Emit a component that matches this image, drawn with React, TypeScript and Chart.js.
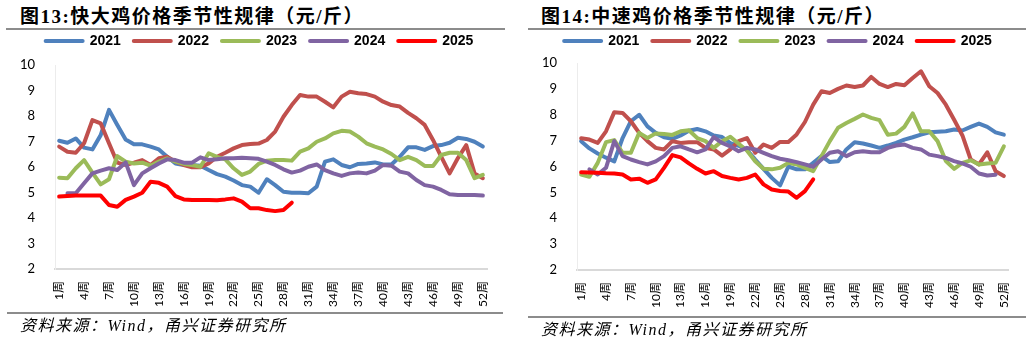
import React, { useEffect, useRef } from 'react';
import { Chart, registerables } from 'chart.js';

Chart.register(...registerables);

// ---- categories / labels ----
const weeks: string[] = Array.from({ length: 52 }, (_, i) => `${i + 1}周`);
const years: string[] = ['2021', '2022', '2023', '2024', '2025'];
const yTickMin = 2;
const yTickMax = 10;

// ---- 图13 快大鸡 (元/斤) ----
const kd2021 = [7.03, 6.95, 7.12, 6.76, 6.69, 7.25, 8.24, 7.65, 7.08, 6.89, 6.89, 6.80, 6.69, 6.40, 6.14, 6.08, 6.08, 6.05, 5.88, 5.72, 5.62, 5.47, 5.29, 5.23, 4.99, 5.52, 5.29, 5.03, 4.99, 4.99, 4.97, 5.23, 6.21, 6.30, 6.08, 5.99, 6.12, 6.14, 6.18, 6.10, 6.10, 6.40, 6.77, 6.77, 6.67, 6.82, 6.86, 6.95, 7.15, 7.10, 6.99, 6.80];
const kd2022 = [6.80, 6.60, 6.56, 6.93, 7.84, 7.71, 6.93, 6.17, 6.08, 6.17, 6.27, 6.08, 6.34, 6.40, 6.21, 6.08, 5.99, 5.99, 6.14, 6.40, 6.56, 6.73, 6.86, 6.90, 6.92, 7.06, 7.39, 7.97, 8.43, 8.82, 8.76, 8.76, 8.56, 8.34, 8.76, 8.95, 8.89, 8.86, 8.76, 8.56, 8.43, 8.37, 8.12, 7.91, 7.65, 7.06, 6.40, 5.75, 6.35, 6.86, 5.75, 5.56];
const kd2023 = [5.58, 5.56, 5.95, 6.27, 5.78, 5.32, 5.52, 6.43, 6.21, 6.14, 6.17, 6.05, 6.21, 6.34, 6.21, 6.12, 6.08, 6.01, 6.54, 6.40, 6.30, 5.95, 5.69, 5.82, 6.12, 6.25, 6.27, 6.27, 6.25, 6.60, 6.73, 6.99, 7.12, 7.32, 7.42, 7.39, 7.19, 6.93, 6.80, 6.69, 6.51, 6.27, 6.40, 6.27, 6.04, 6.04, 6.47, 6.56, 6.56, 6.27, 5.56, 5.69];
const kd2024 = [null, 4.97, 4.97, 5.36, 5.75, 5.86, 5.95, 5.88, 6.18, 5.29, 5.75, 5.95, 6.14, 6.30, 6.27, 6.17, 6.17, 6.38, 6.27, 6.30, 6.34, 6.34, 6.36, 6.34, 6.32, 6.21, 6.08, 5.91, 5.78, 5.86, 6.01, 6.10, 5.88, 5.75, 5.65, 5.75, 5.78, 5.75, 5.86, 6.08, 6.05, 5.82, 5.75, 5.49, 5.29, 5.23, 5.10, 4.93, 4.90, 4.90, 4.90, 4.88];
const kd2025 = [4.84, 4.86, 4.88, 4.88, 4.88, 4.88, 4.51, 4.44, 4.71, 4.84, 4.99, 5.42, 5.38, 5.23, 4.86, 4.73, 4.71, 4.71, 4.71, 4.70, 4.73, 4.77, 4.64, 4.38, 4.38, 4.31, 4.27, 4.31, 4.60];

// ---- 图14 中速鸡 (元/斤) ----
const zs2021 = [6.98, 6.70, 6.50, 6.34, 6.20, 7.10, 7.75, 8.00, 7.55, 7.30, 7.13, 7.07, 7.20, 7.38, 7.45, 7.36, 7.20, 7.14, 6.90, 6.80, 6.65, 6.27, 5.91, 5.56, 5.27, 6.00, 5.89, 5.89, 6.14, 6.40, 6.17, 6.20, 6.66, 6.94, 6.89, 6.81, 6.72, 6.81, 6.91, 7.04, 7.13, 7.23, 7.32, 7.34, 7.36, 7.43, 7.39, 7.53, 7.66, 7.53, 7.32, 7.23];
const zs2022 = [7.09, 7.04, 6.91, 7.36, 8.10, 8.07, 7.75, 7.30, 6.98, 6.72, 6.66, 6.98, 6.91, 6.94, 6.94, 6.72, 6.66, 6.42, 6.66, 6.98, 7.10, 6.53, 6.85, 6.72, 6.95, 6.95, 7.24, 7.72, 8.39, 8.91, 8.84, 9.00, 9.13, 9.07, 9.13, 9.46, 9.19, 9.07, 9.19, 9.14, 9.42, 9.68, 9.10, 8.84, 8.39, 7.81, 7.20, 6.27, 6.08, 6.55, 5.82, 5.63];
const zs2023 = [5.69, 5.60, 6.14, 6.94, 7.02, 6.53, 6.53, 7.30, 7.10, 7.28, 7.26, 7.22, 7.36, 7.40, 7.10, 6.98, 6.72, 6.98, 7.15, 6.88, 6.62, 6.20, 5.91, 5.89, 5.95, 6.14, 6.08, 5.95, 5.82, 6.40, 6.98, 7.50, 7.68, 7.84, 8.01, 7.88, 7.79, 7.23, 7.27, 7.53, 8.05, 7.36, 7.36, 6.98, 6.21, 5.91, 6.14, 6.24, 6.08, 6.12, 6.14, 6.78];
const zs2024 = [null, 5.89, 5.69, 5.95, 6.98, 6.40, 6.27, 6.17, 6.08, 6.20, 6.40, 6.72, 6.78, 6.66, 6.55, 6.66, 7.14, 6.91, 6.78, 6.59, 6.72, 6.66, 6.53, 6.40, 6.30, 6.24, 6.17, 6.08, 5.99, 6.27, 6.53, 6.59, 6.40, 6.55, 6.59, 6.55, 6.55, 6.72, 6.81, 6.85, 6.72, 6.66, 6.46, 6.40, 6.33, 6.21, 6.12, 5.99, 5.73, 5.65, 5.68, null];
const zs2025 = [5.78, 5.77, 5.76, 5.74, 5.73, 5.69, 5.50, 5.53, 5.37, 5.50, 5.95, 6.44, 6.35, 6.12, 5.91, 5.73, 5.82, 5.63, 5.56, 5.50, 5.56, 5.69, 5.31, 5.11, 5.05, 5.03, 4.79, 5.05, 5.50];

const colors = ['#4f81bd', '#c0504d', '#9bbb59', '#8064a2', '#ff0000'];

const RULE = '#8c8c8c';
const TEXT = '#000000';

type PanelProps = {
  left: number;
  width: number;
  title: string;
  series: (number | null)[][];
  padRight: number;
  canvasTop: number;
  canvasHeight: number;
  legendExtra: number;
  legendShift: number;
  titleX: number;
  topRule: [number, number, number];
  bottomRule: [number, number, number];
  sourceX: number;
  sourceY: number;
};

function legendTweak(extra: number, shift: number) {
  return {
    id: 'legendTweak',
    afterInit(chart: any) {
      const legend = chart.legend;
      if (!legend || legend._tweaked) return;
      const origFit = legend.fit.bind(legend);
      legend.fit = function () {
        origFit();
        this.height += extra;
      };
      const origDraw = legend.draw.bind(legend);
      legend.draw = function () {
        const ctx = chart.ctx;
        ctx.save();
        ctx.translate(shift, 0);
        origDraw();
        ctx.restore();
      };
      legend._tweaked = true;
    },
  };
}

function Panel(p: PanelProps) {
  const ref = useRef<HTMLCanvasElement>(null);
  useEffect(() => {
    const canvas = ref.current;
    if (!canvas) return;
    const chart = new Chart(canvas, {
      type: 'line',
      data: {
        labels: weeks,
        datasets: years.map((y, i) => ({
          label: y,
          data: p.series[i],
          borderColor: colors[i],
          backgroundColor: colors[i],
          borderWidth: 4,
          pointRadius: 0,
          pointHoverRadius: 0,
          borderCapStyle: 'round',
          borderJoinStyle: 'round',
          tension: 0,
          order: years.length - i,
        })),
      },
      options: {
        responsive: false,
        animation: false,
        devicePixelRatio: 1,
        events: [],
        layout: { padding: { left: 0, right: p.padRight, top: 0, bottom: 0 } },
        plugins: {
          legend: {
            position: 'top',
            labels: {
              usePointStyle: true,
              pointStyle: 'line',
              pointStyleWidth: 37,
              padding: 13,
              color: TEXT,
              font: { family: '"Liberation Sans", Arial, sans-serif', size: 14, weight: 'bold' },
              generateLabels: () =>
                years.map((y, i) => ({
                  text: y,
                  fillStyle: colors[i],
                  strokeStyle: colors[i],
                  lineWidth: 4,
                  lineCap: 'round',
                  pointStyle: 'line',
                  hidden: false,
                  datasetIndex: i,
                  fontColor: TEXT,
                })),
            },
          },
          tooltip: { enabled: false },
        },
        scales: {
          x: {
            type: 'category',
            offset: true,
            grid: { display: false, drawTicks: false },
            border: { display: true, color: '#d9d9d9', width: 2 },
            ticks: {
              autoSkip: false,
              minRotation: 90,
              maxRotation: 90,
              padding: 12,
              color: TEXT,
              font: { family: 'Lato, "Noto Sans CJK SC", sans-serif', size: 12 },
              callback: (_v: any, index: number) => (index % 3 === 0 ? weeks[index] : ''),
            },
            afterFit: (s: any) => {
              s.height = 45;
            },
          },
          y: {
            min: yTickMin,
            max: yTickMax,
            grid: { display: false, drawTicks: false },
            border: { display: true, color: '#ececec', width: 1 },
            ticks: {
              stepSize: 1,
              padding: 20,
              color: TEXT,
              font: { family: 'Lato, sans-serif', size: 13 },
            },
            afterFit: (s: any) => {
              s.width = 55;
            },
          },
        },
      } as any,
      plugins: [legendTweak(p.legendExtra, p.legendShift)],
    });
    return () => chart.destroy();
  }, []);

  return (
    <div style={{ position: 'absolute', left: p.left, top: 0, width: p.width, height: 344 }}>
      <div
        style={{
          position: 'absolute',
          left: p.titleX,
          top: 7,
          lineHeight: '20px',
          fontSize: 19,
          fontWeight: 'bold',
          fontFamily: '"Liberation Serif", "Noto Sans CJK SC", serif',
          letterSpacing: '1.5px',
          color: TEXT,
          whiteSpace: 'nowrap',
        }}
      >
        {p.title}
      </div>
      <div style={{ position: 'absolute', left: p.topRule[0], top: p.topRule[2], width: p.topRule[1] - p.topRule[0], height: 2, background: RULE }} />
      <canvas
        ref={ref}
        width={p.width}
        height={p.canvasHeight}
        style={{ position: 'absolute', left: 0, top: p.canvasTop, width: p.width, height: p.canvasHeight }}
      />
      <div style={{ position: 'absolute', left: p.bottomRule[0], top: p.bottomRule[2], width: p.bottomRule[1] - p.bottomRule[0], height: 2, background: RULE }} />
      <div
        style={{
          position: 'absolute',
          left: p.sourceX,
          top: p.sourceY - 10,
          lineHeight: '20px',
          fontSize: 16,
          fontStyle: 'italic',
          fontFamily: '"Liberation Serif", "Noto Sans CJK SC", serif',
          letterSpacing: '1.5px',
          color: TEXT,
          whiteSpace: 'nowrap',
        }}
      >
        资料来源：Wind，甬兴证券研究所
      </div>
    </div>
  );
}

export default function App() {
  return (
    <div style={{ position: 'absolute', left: 0, top: 0, width: 1032, height: 344, background: '#fff', overflow: 'hidden' }}>
      <Panel
        left={0}
        width={516}
        title="图13:快大鸡价格季节性规律（元/斤）"
        series={[kd2021, kd2022, kd2023, kd2024, kd2025]}
        padRight={29}
        canvasTop={21}
        canvasHeight={293}
        legendExtra={7}
        legendShift={16}
        titleX={20}
        topRule={[6, 505, 28]}
        bottomRule={[7, 503, 312]}
        sourceX={20}
        sourceY={326}
      />
      <Panel
        left={522}
        width={510}
        title="图14:中速鸡价格季节性规律（元/斤）"
        series={[zs2021, zs2022, zs2023, zs2024, zs2025]}
        padRight={24}
        canvasTop={21}
        canvasHeight={294}
        legendExtra={5}
        legendShift={13}
        titleX={19}
        topRule={[6, 504, 28]}
        bottomRule={[6, 504, 316]}
        sourceX={19}
        sourceY={330}
      />
    </div>
  );
}
